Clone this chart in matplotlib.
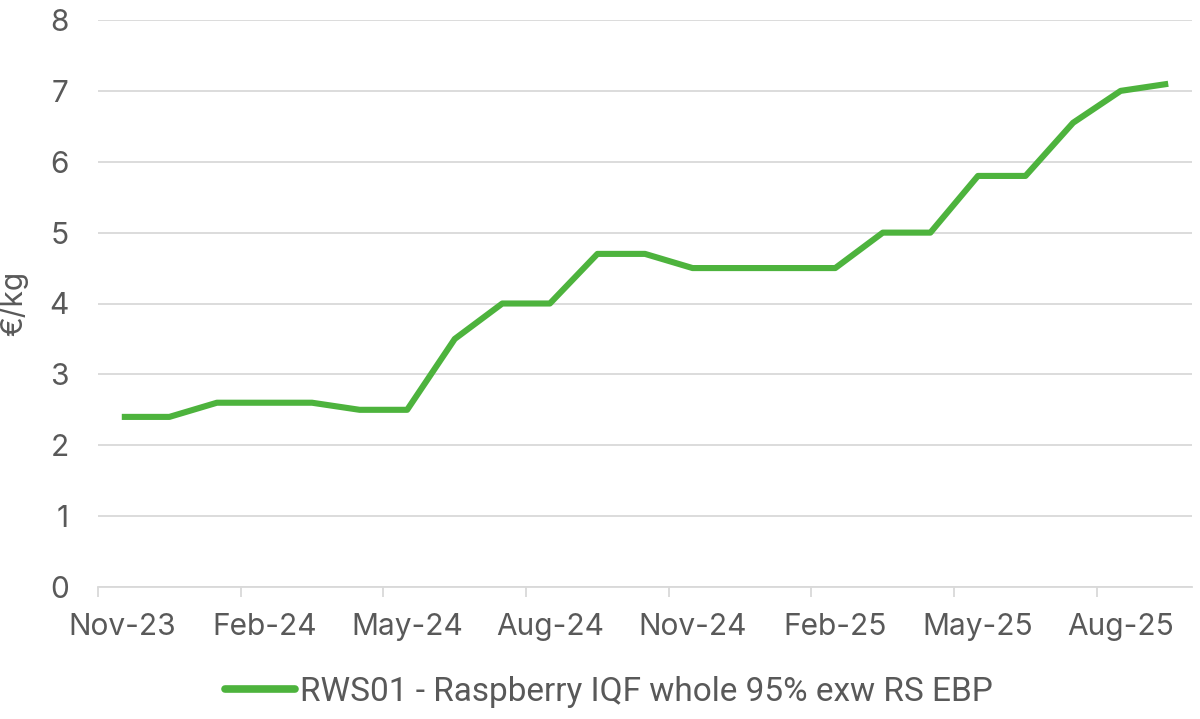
import matplotlib
matplotlib.use("Agg")
import matplotlib.pyplot as plt
from matplotlib.ticker import FixedLocator, NullFormatter

months = ["Nov-23", "Dec-23", "Jan-24", "Feb-24", "Mar-24", "Apr-24", "May-24", "Jun-24",
          "Jul-24", "Aug-24", "Sep-24", "Oct-24", "Nov-24", "Dec-24", "Jan-25", "Feb-25",
          "Mar-25", "Apr-25", "May-25", "Jun-25", "Jul-25", "Aug-25", "Sep-25"]
values = [2.4, 2.4, 2.6, 2.6, 2.6, 2.5, 2.5, 3.5, 4.0, 4.0, 4.7, 4.7, 4.5, 4.5, 4.5, 4.5,
          5.0, 5.0, 5.8, 5.8, 6.55, 7.0, 7.1]
series_name = "RWS01 - Raspberry IQF whole 95% exw RS EBP"
y_ticks = [0, 1, 2, 3, 4, 5, 6, 7, 8]

text_color = "#595959"
green = "#4DB33D"

plt.rcParams['font.family'] = ['Inter', 'DejaVu Sans']

fig = plt.figure(figsize=(12, 7.19), dpi=100)
ax = fig.add_axes([98/1200, 1-587/719, (1192-98)/1200, (587-20)/719])

x = list(range(len(months)))
ax.plot(x, values, color=green, lw=4.4, solid_joinstyle='round', solid_capstyle='butt',
        label=series_name, zorder=3)

ax.set_xlim(-0.5, len(months) - 0.5)
ax.set_ylim(0, 8)
ax.set_yticks(y_ticks)
ax.set_yticklabels([str(v) for v in y_ticks])
ax.grid(axis='y', color='#D9D9D9', lw=1.3)
ax.set_axisbelow(True)

# major ticks at category boundaries (marks), labels at centers (minor)
bounds = [i - 0.5 for i in range(0, len(months), 3)]
ax.xaxis.set_major_locator(FixedLocator(bounds))
ax.xaxis.set_major_formatter(NullFormatter())
label_idx = list(range(0, len(months), 3))
ax.xaxis.set_minor_locator(FixedLocator(label_idx))
ax.set_xticklabels([months[i] for i in label_idx], minor=True)
ax.tick_params(axis='x', which='major', length=7, width=1.3, color='#D9D9D9')
ax.tick_params(axis='x', which='minor', length=0, pad=19, labelsize=21.5, labelcolor=text_color)
ax.tick_params(axis='y', length=0, pad=21, labelsize=21.5, labelcolor=text_color)

for s in ['top', 'right', 'left']:
    ax.spines[s].set_visible(False)
ax.spines['bottom'].set_color('#D9D9D9')
ax.spines['bottom'].set_linewidth(1.3)

ax.set_ylabel("€/kg", fontsize=21.5, color=text_color)
ax.yaxis.set_label_coords((28 - 98) / 1094, 0.5)

leg = fig.legend(loc='center', bbox_to_anchor=(609/1200, 1-692/719), frameon=False,
                 prop={'family': ['Roboto', 'DejaVu Sans'], 'size': 24},
                 handlelength=2.1, handletextpad=0.15)
for t in leg.get_texts():
    t.set_color(text_color)
for h in leg.legend_handles:
    h.set_linewidth(5.5)
    h.set_solid_capstyle('round')

fig.savefig("out.png", dpi=100, facecolor='white')
